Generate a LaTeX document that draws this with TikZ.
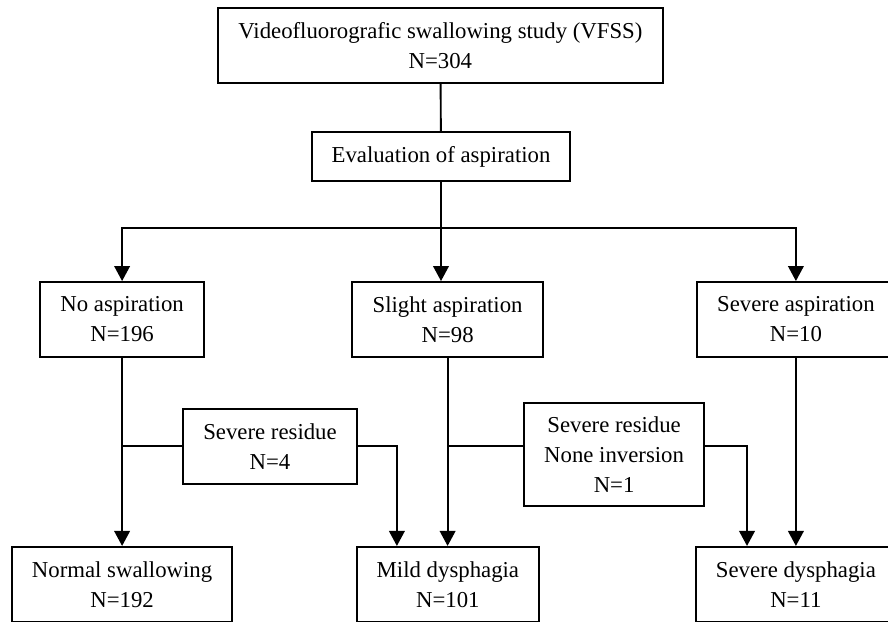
\documentclass[tikz,border=0pt]{standalone}
\usepackage{fontspec}
\setmainfont{Liberation Serif}
\usetikzlibrary{positioning, arrows.meta, calc}
\tikzset{
	>={Triangle[length=5mm, width=5.2mm]},
	% riquadro con testo
	riquadro/.style={draw, line width=1.8pt, rectangle, minimum height=2.5cm,
	                 align=center, inner sep=2pt},
	% collegamento semplice
	linea/.style={line width=1.8pt},
	% collegamento con freccia
	freccia/.style={->, line width=1.8pt},
}

\begin{document}
\begin{tikzpicture}[font=\fontsize{21.6}{28.5}\selectfont]
    \useasboundingbox (0,0) rectangle (29.6,-20.7);
    \clip (0,0) rectangle (29.6,-20.7);

    \node[riquadro, minimum width=14.83cm] (vfss) at (14.68,-1.52) {Videofluorografic swallowing study (VFSS)\\N=304};
    \node[riquadro, minimum width=8.6cm, minimum height=1.63cm] (eval) at (14.7,-5.22) {Evaluation of aspiration};

    % aspirazione
    \node[riquadro, minimum width=5.47cm] (noasp) at (4.07,-10.65) {No aspiration\\N=196};
    \node[riquadro, minimum width=6.37cm] (slight) at (14.92,-10.65) {Slight aspiration\\N=98};
    \node[riquadro, minimum width=6.6cm] (sevasp) at (26.53,-10.65) {Severe aspiration\\N=10};

    % residuo
    \node[riquadro, minimum width=5.8cm] (res4) at (9.0,-14.88) {Severe residue\\N=4};
    \node[riquadro, minimum width=6.0cm, minimum height=3.43cm] (res1) at (20.47,-15.15) {Severe residue\\None inversion\\N=1};

    % esito
    \node[riquadro, minimum width=7.33cm] (normal) at (4.07,-19.48) {Normal swallowing\\N=192};
    \node[riquadro, minimum width=6.07cm] (mild) at (14.93,-19.48) {Mild dysphagia\\N=101};
    \node[riquadro, minimum width=6.67cm] (sevdys) at (26.53,-19.48) {Severe dysphagia\\N=11};

    % collegamenti
    \coordinate (ramo) at (14.7,-7.6);
    \coordinate (gomito4) at (13.23,0);
    \coordinate (gomito1) at (24.9,0);
    \draw[linea] (vfss) -- (eval);
    \draw[freccia] (eval.south) -- (eval.south |- slight.north);
    \draw[freccia] (ramo) -| (noasp.north);
    \draw[freccia] (ramo) -| (sevasp.north);

    \draw[freccia] (noasp) -- (normal);
    \draw[linea] (res4.west) -- (res4.west -| noasp.south);
    \draw[freccia] (res4.east) -| (gomito4 |- mild.north);

    \draw[freccia] (slight.south) -- (slight.south |- mild.north);
    \draw[linea] (slight.south |- res4.west) -- (res1.west |- res4.west);
    \draw[freccia] (res1.east |- res4.east) -| (gomito1 |- sevdys.north);

    \draw[freccia] (sevasp) -- (sevdys);
\end{tikzpicture}
\end{document}
